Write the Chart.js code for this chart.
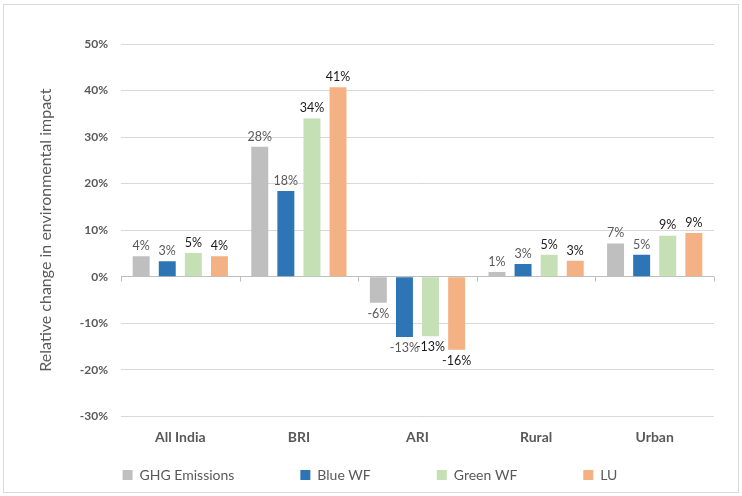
<!DOCTYPE html>
<html>
<head>
<meta charset="utf-8">
<script src="https://cdn.jsdelivr.net/npm/chart.js@4.4.0/dist/chart.umd.min.js"></script>
<style>
  body { margin: 0; background: #fff; }
  #wrap { position: relative; width: 742px; height: 496px; }
  #frame { position: absolute; left: 3px; top: 4px; width: 734px; height: 487px; border: 1px solid #d9d9d9; pointer-events: none; }
</style>
</head>
<body>
<div id="wrap">
  <canvas id="chart" width="742" height="496"></canvas>
  <div id="frame"></div>
</div>
<script>
const categories = ["All India", "BRI", "ARI", "Rural", "Urban"];
const seriesNames = ["GHG Emissions", "Blue WF", "Green WF", "LU"];
const ghg = [4.4, 27.9, -5.6, 1.0, 7.1];
const blueWF = [3.3, 18.4, -13.0, 2.7, 4.7];
const greenWF = [5.1, 34.0, -12.8, 4.7, 8.8];
const lu = [4.4, 40.7, -15.7, 3.4, 9.4];
const yTicks = [-30, -20, -10, 0, 10, 20, 30, 40, 50];

const colors = ["#bfbfbf", "#2e75b6", "#c5e0b4", "#f4b183"];
const labelColors = ["#595959", "#595959", "#1a1a1a", "#1a1a1a"];
const FONT = "Lato, 'Open Sans', sans-serif";

// value labels above / below bars
const valueLabels = {
  id: "valueLabels",
  afterDatasetsDraw(chart) {
    const ctx = chart.ctx;
    ctx.save();
    ctx.font = "12.5px " + FONT;
    ctx.textAlign = "center";
    chart.data.datasets.forEach((ds, i) => {
      const meta = chart.getDatasetMeta(i);
      meta.data.forEach((bar, j) => {
        const v = ds.data[j];
        ctx.fillStyle = labelColors[i];
        const txt = Math.round(v) + "%";
        if (v >= 0) {
          ctx.textBaseline = "bottom";
          ctx.fillText(txt, bar.x, bar.y - 4);
        } else {
          ctx.textBaseline = "top";
          ctx.fillText(txt, bar.x, bar.y + 5);
        }
      });
    });
    ctx.restore();
  }
};

// small tick marks on the zero line between categories
const zeroTicks = {
  id: "zeroTicks",
  afterDraw(chart) {
    const x = chart.scales.x, y = chart.scales.y;
    const y0 = y.getPixelForValue(0);
    const step = (x.right - x.left) / categories.length;
    const ctx = chart.ctx;
    ctx.save();
    ctx.strokeStyle = "#bfbfbf";
    ctx.lineWidth = 1;
    for (let i = 0; i <= categories.length; i++) {
      const px = Math.round(x.left + i * step) + 0.5;
      ctx.beginPath();
      ctx.moveTo(px, y0);
      ctx.lineTo(px, y0 + 5);
      ctx.stroke();
    }
    ctx.restore();
  }
};

// wide horizontal legend spacing without the tall vertical padding
const legendFix = {
  id: "legendFix",
  beforeInit(chart) {
    const fit = chart.legend.fit;
    chart.legend.fit = function () {
      fit.call(this);
      this.height = 34;
    };
  },
  afterLayout(chart) {
    chart.legend.top = 402;
    chart.legend.left += 8;
    chart.legend.right += 8;
  }
};

new Chart("chart", {
  type: "bar",
  data: {
    labels: categories,
    datasets: [ghg, blueWF, greenWF, lu].map((d, i) => ({
      label: seriesNames[i],
      data: d,
      backgroundColor: colors[i],
      barPercentage: 0.65,
      categoryPercentage: 0.88
    }))
  },
  options: {
    responsive: false,
    animation: false,
    layout: { padding: { top: 44, right: 28, left: 10, bottom: 11 } },
    plugins: {
      tooltip: { enabled: false },
      legend: {
        position: "bottom",
        labels: {
          boxWidth: 10,
          boxHeight: 10,
          padding: 66,
          color: "#595959",
          font: { family: FONT, size: 14 }
        }
      }
    },
    scales: {
      x: {
        grid: { display: false },
        border: { display: false },
        ticks: {
          color: "#595959",
          padding: 5,
          font: { family: FONT, size: 14, weight: "bold" }
        }
      },
      y: {
        min: -30,
        max: 50,
        afterBuildTicks(scale) { scale.ticks = yTicks.map(v => ({ value: v })); },
        afterFit(scale) { scale.width = 111; },
        border: { display: false },
        grid: {
          drawTicks: false,
          color: ctx => ctx.tick && ctx.tick.value === 0 ? "#bfbfbf" : "#d9d9d9"
        },
        ticks: {
          padding: 13,
          color: "#595959",
          font: { family: FONT, size: 12, weight: "bold" },
          callback: v => v + "%"
        },
        title: {
          display: true,
          text: "Relative change in environmental impact",
          color: "#595959",
          padding: { top: 26, bottom: 20 },
          font: { family: FONT, size: 16 }
        }
      }
    }
  },
  plugins: [valueLabels, zeroTicks, legendFix]
});
</script>
</body>
</html>
